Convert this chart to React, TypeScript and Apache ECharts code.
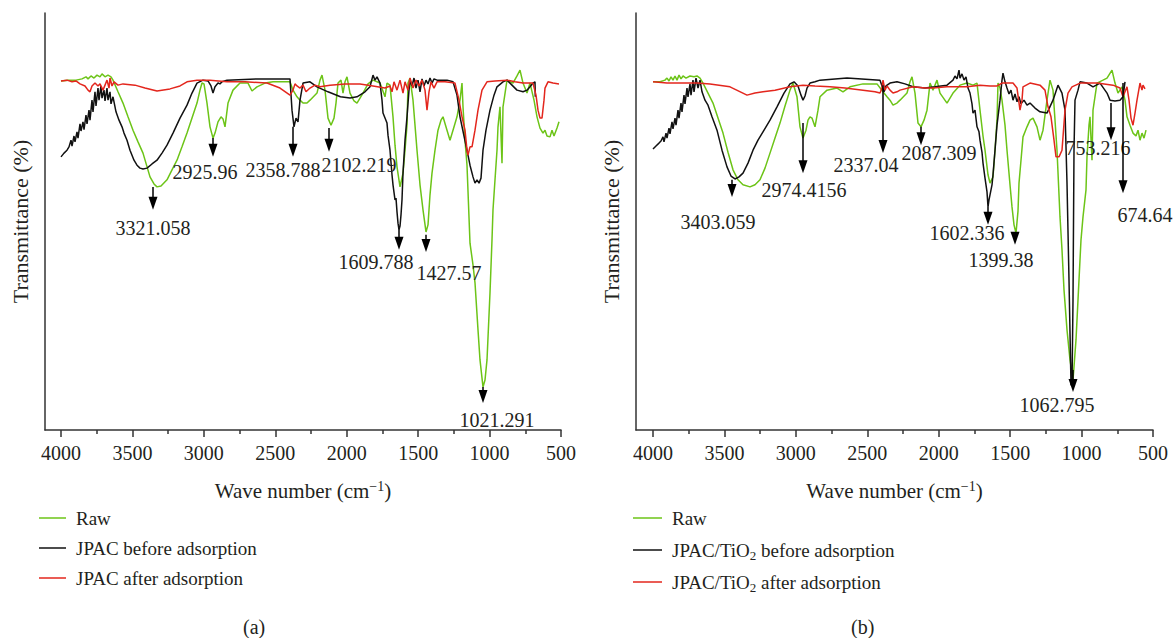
import React, { useEffect, useRef } from 'react';
import * as echarts from 'echarts';

const FONT = "'Liberation Serif', 'Times New Roman', serif";
const TXT = '#231f20';
const GREEN = '#6cc417';
const BLACK = '#111111';
const RED = '#e3261d';

const xTicks = [4000, 3500, 3000, 2500, 2000, 1500, 1000, 500];
const xMinorTicks = [3750, 3250, 2750, 2250, 1750, 1250, 750];

// ---------- Panel (a) ----------
const rawA = [
  [4000,83.7],[3951,83.9],[3895,83.9],[3853,84.2],[3825,84.7],[3811,84.2],[3790,84.9],[3769,84.4],[3748,85.1],[3727,84.7],[3713,85.4],[3692,84.7],[3671,85.1],[3650,84.7],[3636,83.9],[3601,81.1],[3566,78.4],[3531,75.1],[3496,71.9],[3461,69.1],[3426,66.4],[3377,60.7],[3349,59.0],[3328,58.3],[3300,58.5],[3258,60.0],[3223,62.4],[3188,64.7],[3153,67.9],[3118,71.2],[3083,74.8],[3048,78.4],[3027,81.5],[3013,83.2],[2999,83.0],[2978,78.4],[2957,72.7],[2936,70.0],[2922,71.2],[2901,73.9],[2880,75.1],[2866,74.6],[2852,72.7],[2831,78.4],[2796,81.5],[2747,83.2],[2691,83.2],[2663,81.3],[2628,82.3],[2572,83.2],[2516,83.5],[2397,83.5],[2376,81.5],[2348,79.9],[2327,79.1],[2306,78.4],[2278,78.4],[2257,79.1],[2208,80.8],[2187,83.9],[2173,85.1],[2152,81.5],[2131,74.8],[2110,73.1],[2089,74.8],[2075,78.4],[2061,83.2],[2040,83.9],[2026,80.8],[2012,83.5],[1998,84.7],[1977,80.8],[1949,78.9],[1928,78.4],[1886,80.8],[1851,83.0],[1816,83.9],[1767,83.2],[1732,79.9],[1718,83.2],[1697,82.7],[1676,75.1],[1662,68.3],[1648,63.1],[1627,58.3],[1606,61.6],[1592,67.1],[1578,73.1],[1571,83.2],[1557,84.4],[1536,79.1],[1508,67.1],[1487,58.8],[1466,52.8],[1445,47.5],[1431,49.2],[1417,56.4],[1403,61.6],[1382,67.1],[1361,71.9],[1340,74.3],[1326,75.1],[1298,71.9],[1277,69.5],[1256,71.9],[1228,75.1],[1207,79.1],[1193,83.2],[1186,77.5],[1172,69.5],[1158,63.5],[1137,44.8],[1116,39.6],[1102,35.3],[1081,24.0],[1067,16.8],[1046,10.3],[1032,12.0],[1018,16.8],[997,32.9],[983,45.6],[976,52.8],[962,60.0],[948,67.1],[941,72.7],[927,77.5],[913,64.0],[906,77.5],[878,83.9],[836,83.2],[808,84.9],[787,86.3],[766,83.2],[738,80.8],[717,83.2],[689,79.1],[668,75.1],[647,72.4],[626,71.2],[612,71.9],[598,70.5],[577,70.3],[563,71.9],[549,70.5],[528,72.4],[514,73.9]
];
const beforeA = [
  [4000,65.5],[3979,66.4],[3958,67.1],[3944,67.9],[3930,69.5],[3923,68.1],[3909,70.5],[3902,69.1],[3888,71.5],[3881,70.0],[3867,73.4],[3860,71.7],[3846,73.9],[3839,72.0],[3825,75.5],[3818,73.4],[3804,76.7],[3797,74.3],[3783,79.1],[3776,76.3],[3762,81.1],[3755,77.7],[3741,82.0],[3734,79.1],[3720,82.5],[3713,79.6],[3699,81.5],[3692,78.9],[3678,82.0],[3671,79.1],[3657,81.1],[3650,78.2],[3636,79.9],[3615,76.3],[3594,74.3],[3573,72.7],[3559,71.2],[3538,69.5],[3517,67.1],[3489,64.7],[3468,63.5],[3447,62.8],[3426,62.6],[3398,62.8],[3363,63.8],[3328,64.7],[3293,66.4],[3258,68.3],[3216,71.2],[3167,74.8],[3118,77.9],[3083,80.8],[3048,83.2],[3006,83.9],[2971,83.7],[2950,82.5],[2936,80.8],[2922,82.3],[2901,83.2],[2887,83.0],[2873,83.5],[2838,83.9],[2607,84.2],[2397,84.2],[2383,76.7],[2369,72.7],[2355,74.8],[2341,73.9],[2327,79.1],[2306,83.2],[2257,83.5],[2208,82.3],[2131,81.1],[2044,79.9],[1977,79.6],[1928,79.9],[1872,81.1],[1837,82.3],[1816,85.1],[1802,83.9],[1788,84.7],[1767,83.2],[1753,79.1],[1746,76.0],[1732,74.8],[1718,73.6],[1711,70.7],[1697,67.1],[1683,61.2],[1676,58.8],[1662,55.2],[1655,55.6],[1648,52.3],[1641,49.6],[1634,48.0],[1627,48.9],[1620,51.6],[1613,55.2],[1606,61.6],[1592,69.5],[1578,75.1],[1564,81.5],[1557,83.9],[1543,82.5],[1529,84.4],[1515,82.0],[1501,83.9],[1487,81.1],[1473,84.2],[1459,82.5],[1445,83.9],[1431,83.0],[1417,84.4],[1403,83.2],[1389,84.2],[1368,83.9],[1298,83.9],[1256,83.5],[1228,80.3],[1207,75.1],[1179,70.5],[1158,67.1],[1137,63.5],[1116,60.7],[1102,59.2],[1088,60.0],[1074,59.2],[1060,60.4],[1046,67.1],[1025,71.9],[997,76.7],[969,80.3],[948,82.3],[906,83.5],[878,83.9],[843,82.7],[808,81.5],[766,81.1],[738,81.5],[717,82.3],[696,83.2],[682,83.5],[680,79.9]
];
const afterA = [
  [4000,83.7],[3958,83.9],[3923,83.5],[3895,83.7],[3867,83.0],[3832,82.5],[3811,81.5],[3797,81.1],[3783,82.5],[3762,83.2],[3741,82.5],[3727,83.0],[3706,81.5],[3692,82.7],[3678,83.9],[3664,82.0],[3657,84.4],[3643,82.5],[3629,83.5],[3601,82.7],[3566,83.0],[3482,82.7],[3412,82.0],[3328,81.3],[3237,81.8],[3167,82.5],[3118,83.5],[3048,83.9],[2957,83.9],[2838,83.5],[2712,83.5],[2558,83.2],[2467,82.0],[2397,80.3],[2376,81.5],[2362,83.0],[2348,82.5],[2327,82.0],[2306,82.7],[2285,81.1],[2257,82.0],[2222,82.7],[2187,82.3],[2117,82.7],[2012,83.0],[1907,83.0],[1816,82.5],[1732,82.0],[1697,82.5],[1683,81.1],[1669,83.5],[1648,81.5],[1627,83.9],[1606,80.8],[1592,83.5],[1571,81.5],[1557,84.4],[1536,82.0],[1515,83.9],[1494,82.5],[1473,83.9],[1452,81.5],[1438,76.7],[1424,81.1],[1410,83.5],[1389,82.0],[1368,83.5],[1312,83.5],[1242,83.2],[1214,79.1],[1193,75.1],[1172,71.9],[1158,67.1],[1151,65.9],[1137,67.9],[1123,67.9],[1102,71.9],[1081,76.7],[1053,81.5],[1018,83.5],[962,83.7],[878,83.9],[822,83.5],[766,83.2],[696,83.2],[675,80.3],[661,76.7],[647,74.8],[633,74.8],[619,79.1],[612,82.0],[591,83.5],[556,83.2],[514,83.0]
];
const peaksA = [3356, 2936, 2376, 2124, 1634, 1445, 1046];
const arrowFromA = [58.3, 70.0, 72.7, 72.4, 48.0, 46.8, 10.3];
const arrowToA = [52.8, 65.5, 65.5, 66.7, 43.2, 42.7, 6.5];
const labelsA = ['3321.058', '2925.96', '2358.788', '2102.219', '1609.788', '1427.57', '1021.291'];
const labelOffsetA = [[0, 18], [-8, 15], [-10, 13], [30, 13], [-23, 12], [23, 21], [14, 17]];

// ---------- Panel (b) ----------
const rawB = [
  [4000,83.5],[3951,83.5],[3916,83.9],[3902,84.4],[3888,83.7],[3874,84.7],[3860,83.9],[3846,84.9],[3832,83.9],[3818,85.1],[3804,84.2],[3790,84.9],[3769,84.4],[3741,84.9],[3713,84.7],[3692,84.9],[3671,84.4],[3650,83.2],[3615,80.8],[3580,78.4],[3545,74.8],[3510,71.2],[3475,66.6],[3440,62.4],[3405,60.0],[3370,58.8],[3321,58.3],[3286,58.8],[3251,60.0],[3216,62.8],[3181,66.4],[3146,70.0],[3111,73.6],[3076,77.7],[3041,81.5],[3020,83.2],[2992,79.9],[2971,72.7],[2950,70.0],[2929,71.9],[2915,74.3],[2901,75.1],[2887,74.8],[2866,72.7],[2845,76.7],[2831,79.9],[2782,81.5],[2712,82.0],[2670,81.1],[2621,82.3],[2530,83.0],[2432,83.0],[2390,81.1],[2362,79.9],[2341,79.1],[2320,77.9],[2292,78.4],[2271,79.1],[2222,80.8],[2201,83.5],[2187,84.7],[2166,80.8],[2145,73.6],[2124,72.7],[2103,74.3],[2082,76.7],[2061,83.2],[2040,81.5],[2026,82.7],[2012,83.9],[1991,80.8],[1942,78.4],[1900,80.8],[1851,82.7],[1802,83.2],[1760,82.7],[1732,83.2],[1711,76.7],[1690,70.5],[1676,67.1],[1655,61.2],[1641,59.2],[1620,60.7],[1606,67.1],[1592,74.3],[1585,83.2],[1571,82.0],[1557,79.1],[1536,73.1],[1522,67.1],[1501,58.8],[1487,53.5],[1473,49.2],[1459,47.2],[1445,52.5],[1438,59.2],[1424,64.7],[1410,70.3],[1382,72.7],[1361,74.3],[1340,74.8],[1312,72.7],[1291,69.5],[1270,71.9],[1242,79.1],[1221,83.9],[1200,81.5],[1186,74.3],[1172,67.1],[1151,51.1],[1137,43.2],[1123,33.6],[1102,24.0],[1081,16.8],[1060,12.0],[1039,21.6],[1025,31.2],[1004,45.6],[990,51.1],[969,57.6],[962,65.5],[948,73.1],[941,75.1],[927,64.7],[920,76.7],[892,83.2],[850,83.9],[822,84.4],[787,86.3],[766,83.2],[745,80.8],[717,82.3],[696,79.1],[682,75.1],[661,73.1],[640,71.2],[619,70.5],[605,71.9],[591,69.5],[577,71.2],[563,70.0],[549,71.9]
];
const beforeB = [
  [4000,67.4],[3979,68.1],[3958,68.8],[3944,69.3],[3930,70.3],[3923,69.1],[3909,71.2],[3902,70.0],[3888,72.4],[3881,71.0],[3867,73.9],[3860,72.2],[3846,74.8],[3839,73.1],[3825,76.7],[3818,74.8],[3804,78.4],[3797,76.3],[3783,80.3],[3776,78.2],[3762,82.0],[3755,79.9],[3741,83.0],[3734,80.3],[3720,83.9],[3713,81.1],[3699,84.4],[3685,82.0],[3671,83.9],[3657,81.1],[3636,79.1],[3615,77.9],[3587,75.1],[3552,71.9],[3517,67.1],[3482,63.1],[3454,60.9],[3426,60.2],[3398,60.7],[3370,61.6],[3335,64.0],[3300,67.1],[3265,69.5],[3230,71.5],[3181,74.3],[3132,77.5],[3083,80.8],[3041,83.0],[3013,83.5],[2985,82.5],[2964,80.3],[2950,79.1],[2936,80.1],[2922,82.0],[2901,83.2],[2866,83.5],[2831,83.9],[2642,84.4],[2411,83.9],[2397,82.5],[2383,81.1],[2369,82.5],[2341,83.2],[2292,83.5],[2236,83.0],[2180,82.3],[2096,82.0],[2026,82.3],[1942,82.7],[1900,83.9],[1886,84.9],[1872,84.2],[1858,86.3],[1851,84.4],[1837,85.4],[1823,83.9],[1809,84.7],[1795,82.0],[1781,80.8],[1767,78.2],[1760,76.0],[1746,76.7],[1732,72.7],[1718,71.5],[1711,69.5],[1697,66.6],[1690,64.0],[1676,60.4],[1662,57.1],[1655,53.5],[1648,55.2],[1641,56.4],[1627,58.8],[1620,61.2],[1606,67.1],[1592,73.1],[1571,79.1],[1557,83.9],[1550,85.6],[1536,83.5],[1522,82.0],[1508,80.6],[1494,81.5],[1480,79.1],[1466,80.6],[1452,78.7],[1438,79.9],[1424,78.2],[1403,79.1],[1382,77.9],[1361,78.4],[1326,77.2],[1291,76.3],[1242,76.0],[1200,79.1],[1165,82.7],[1137,80.8],[1116,76.7],[1102,59.2],[1088,36.0],[1074,10.8],[1067,10.8],[1060,31.2],[1053,67.1],[1046,79.1],[1025,81.5],[1011,83.5],[962,83.2],[920,82.3],[871,83.2],[822,80.8],[801,79.1],[766,78.9],[731,79.1],[710,79.9],[696,83.5]
];
const afterB = [
  [4000,83.5],[3902,83.2],[3692,83.2],[3601,83.0],[3461,82.3],[3342,80.3],[3286,80.8],[3230,81.1],[3146,81.5],[3041,82.3],[2950,82.7],[2866,82.5],[2761,82.3],[2656,82.0],[2530,81.5],[2446,81.1],[2411,80.8],[2397,82.0],[2390,83.9],[2376,81.5],[2362,82.5],[2341,81.5],[2320,80.8],[2292,81.1],[2271,81.5],[2180,82.3],[2096,82.0],[2040,82.0],[1942,82.3],[1802,82.3],[1711,82.7],[1641,82.5],[1592,82.5],[1557,83.2],[1522,83.2],[1480,83.2],[1452,82.0],[1431,76.7],[1417,79.1],[1410,82.3],[1361,83.2],[1291,82.7],[1256,81.5],[1235,77.5],[1214,75.1],[1193,69.5],[1179,65.5],[1158,65.5],[1137,67.1],[1116,76.7],[1095,80.8],[1067,82.3],[1011,83.2],[892,83.2],[780,82.7],[731,82.0],[710,79.9],[696,81.1],[682,82.3],[668,79.1],[654,74.8],[640,73.1],[626,76.0],[612,79.1],[591,83.2],[577,81.5],[570,82.7],[556,81.8]
];
const peaksB = [3447, 2950, 2390, 2124, 1655, 1466, 1060, 794, 710];
const arrowFromB = [60.0, 73.6, 82.7, 72.7, 53.5, 47.2, 14.4, 78.4, 83.2];
const arrowToB = [55.9, 61.6, 66.4, 68.3, 49.2, 44.4, 9.1, 69.5, 56.8];
const labelsB = ['3403.059', '2974.4156', '2337.04', '2087.309', '1602.336', '1399.38', '1062.795', '753.216', '674.64'];
const labelOffsetB = [[-14, 25], [1, 17], [-17, 12], [18, 8], [-21, 8], [-14, 15], [-16, 13], [-13, 8], [22, 22]];

const namesA = ['Raw', 'JPAC before adsorption', 'JPAC after adsorption'];
const namesB = ['Raw', 'JPAC/TiO2 before adsorption', 'JPAC/TiO2 after adsorption'];

const axisColor = '#333';

function xAxesFor(gridIndex: number, maxV: number) {
  return [
    {
      type: 'value', gridIndex, inverse: true, min: 500, max: maxV, position: 'bottom',
      axisLine: { show: true, onZero: false, lineStyle: { color: axisColor, width: 1.5 } },
      axisTick: { show: true, customValues: xTicks, length: 7, lineStyle: { color: axisColor, width: 1.5 } },
      axisLabel: {
        customValues: xTicks, fontSize: 20, fontFamily: FONT, color: TXT, margin: 13,
        formatter: (v: number) => String(v),
      },
      splitLine: { show: false },
      name: '{n|Wave number (cm}{sup|\u22121}{n|)}',
      nameLocation: 'middle', nameGap: 49,
      nameTextStyle: {
        rich: {
          n: { fontSize: 21, fontFamily: FONT, color: TXT, lineHeight: 24 },
          sup: { fontSize: 14, fontFamily: FONT, color: TXT, lineHeight: 14, verticalAlign: 'top' },
        },
      },
    },
    {
      type: 'value', gridIndex, inverse: true, min: 500, max: maxV, position: 'bottom',
      axisLine: { show: false, onZero: false },
      axisTick: { show: true, customValues: xMinorTicks, length: 4, lineStyle: { color: axisColor, width: 1.5 } },
      axisLabel: { show: false },
      splitLine: { show: false },
    },
  ];
}

function yAxisFor(gridIndex: number) {
  return {
    type: 'value', gridIndex, min: 0, max: 100,
    axisLine: { show: true, onZero: false, lineStyle: { color: axisColor, width: 1.5 } },
    axisTick: { show: false }, axisLabel: { show: false }, splitLine: { show: false },
    name: 'Transmittance (%)', nameLocation: 'middle', nameGap: 14,
    nameTextStyle: { fontSize: 22, fontFamily: FONT, color: TXT },
  };
}

function lineSeries(name: string, data: number[][], color: string, xi: number, yi: number) {
  return {
    type: 'line', name, data, xAxisIndex: xi, yAxisIndex: yi,
    showSymbol: false, symbol: 'none', smooth: false,
    lineStyle: { color, width: 1.5 }, itemStyle: { color },
  };
}

function arrowSeries(peaks: number[], from: number[], to: number[], labels: string[], offs: number[][], xi: number, yi: number) {
  return {
    type: 'custom', xAxisIndex: xi, yAxisIndex: yi, silent: true, z: 10, clip: false,
    data: peaks.map((p, i) => [p, from[i], to[i]]),
    renderItem: (params: any, api: any) => {
      const i = params.dataIndex;
      const p1 = api.coord([api.value(0), api.value(1)]);
      const p2 = api.coord([api.value(0), api.value(2)]);
      const head = 13;
      const children: any[] = [];
      if (p2[1] - head > p1[1]) {
        children.push({ type: 'line', shape: { x1: p1[0], y1: p1[1], x2: p2[0], y2: p2[1] - head + 2 }, style: { stroke: '#000', lineWidth: 1.5 } });
      }
      children.push({ type: 'polygon', shape: { points: [[p2[0] - 4.5, p2[1] - head], [p2[0] + 4.5, p2[1] - head], [p2[0], p2[1]]] }, style: { fill: '#000' } });
      children.push({
        type: 'text', x: p2[0] + offs[i][0], y: p2[1] + offs[i][1],
        style: { text: labels[i], fill: TXT, fontSize: 20, fontFamily: FONT, align: 'center', verticalAlign: 'middle' },
      });
      return { type: 'group', children };
    },
  };
}

const legendText = {
  fontSize: 19, fontFamily: FONT, color: TXT, lineHeight: 22, padding: [0, 0, 0, 5],
};

const option: any = {
  animation: false,
  backgroundColor: '#ffffff',
  grid: [
    { left: 45, top: 13, width: 516, height: 417 },
    { left: 636, top: 13, width: 517, height: 417 },
  ],
  xAxis: [...xAxesFor(0, 4112), ...xAxesFor(1, 4119)],
  yAxis: [yAxisFor(0), yAxisFor(1)],
  legend: [
    {
      data: namesA, orient: 'vertical', left: 34, top: 502, padding: 5, icon: 'rect', itemWidth: 27, itemHeight: 1.5, itemGap: 8,
      selectedMode: false, textStyle: legendText,
    },
    {
      data: namesB, orient: 'vertical', left: 628, top: 501, padding: 5, icon: 'rect', itemWidth: 29, itemHeight: 1.5, itemGap: 8,
      selectedMode: false,
      formatter: (name: string) => name.includes('TiO2')
        ? '{n|' + name.replace('TiO2', 'TiO}{s|2}{n|') + '}'
        : '{n|' + name + '}',
      textStyle: {
        ...legendText, lineHeight: 24,
        rich: {
          n: { fontSize: 19, fontFamily: FONT, color: TXT, lineHeight: 24 },
          s: { fontSize: 13, fontFamily: FONT, color: TXT, lineHeight: 14, verticalAlign: 'bottom' },
        },
      },
    },
  ],
  graphic: [
    { type: 'text', left: 243, top: 617, style: { text: '(a)', fontSize: 20, fontFamily: FONT, fill: TXT } },
    { type: 'text', left: 851, top: 617, style: { text: '(b)', fontSize: 20, fontFamily: FONT, fill: TXT } },
  ],
  series: [
    lineSeries(namesA[0], rawA, GREEN, 0, 0),
    lineSeries(namesA[1], beforeA, BLACK, 0, 0),
    lineSeries(namesA[2], afterA, RED, 0, 0),
    arrowSeries(peaksA, arrowFromA, arrowToA, labelsA, labelOffsetA, 0, 0),
    lineSeries(namesB[0], rawB, GREEN, 2, 1),
    lineSeries(namesB[1], beforeB, BLACK, 2, 1),
    lineSeries(namesB[2], afterB, RED, 2, 1),
    arrowSeries(peaksB, arrowFromB, arrowToB, labelsB, labelOffsetB, 2, 1),
  ],
};

export default function App() {
  const ref = useRef<HTMLDivElement>(null);
  useEffect(() => {
    const chart = echarts.init(ref.current as HTMLDivElement, null, { renderer: 'svg' });
    chart.setOption(option);
    return () => chart.dispose();
  }, []);
  return (
    <div
      ref={ref}
      style={{ position: 'absolute', left: 0, top: 0, width: 1175, height: 638, background: '#fff' }}
    />
  );
}
